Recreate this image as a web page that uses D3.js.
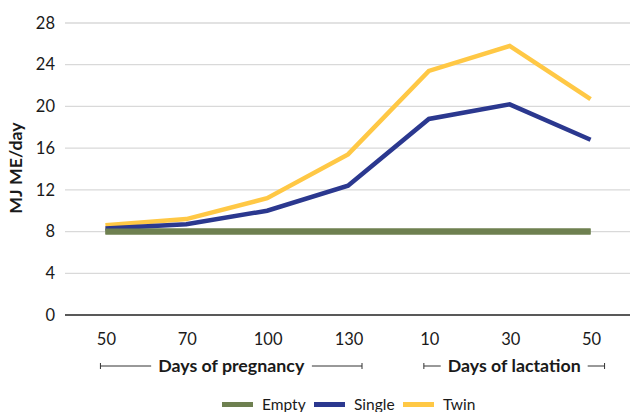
<!DOCTYPE html>
<html><head><meta charset="utf-8">
<script src="https://cdn.jsdelivr.net/npm/d3@7"></script>
<style>body{margin:0;background:#fff}svg{display:block}text{font-family:Lato,"Noto Sans",sans-serif;fill:#1a1a1a}</style>
</head><body><svg id="c" width="630" height="412"></svg>
<script>
const categories = ["p50","p70","p100","p130","l10","l30","l50"];
const tickLabels = ["50","70","100","130","10","30","50"];
const empty  = [8, 8, 8, 8, 8, 8, 8];
const single = [8.3, 8.7, 10.0, 12.4, 18.8, 20.2, 16.8];
const twin   = [8.6, 9.2, 11.2, 15.4, 23.4, 25.8, 20.7];
const yTicks = [0,4,8,12,16,20,24,28];
const seriesNames = ["Empty","Single","Twin"];
const colors = ["#6E8050","#2B388F","#FFC845"];
const groups = [{label:"Days of pregnancy", from:0, to:3},{label:"Days of lactation", from:4, to:6}];

const svg = d3.select("#c");
const L=65, R=631, T=23, B=315;
const x = d3.scaleBand().domain(categories).range([L,R]);
const y = d3.scaleLinear().domain([0,28]).range([B,T]);

// gridlines
svg.append("g").selectAll("line").data(yTicks.filter(d=>d>0)).join("line")
  .attr("x1",L).attr("x2",R).attr("y1",d=>y(d)).attr("y2",d=>y(d))
  .attr("stroke","#d9d9d9").attr("stroke-width",1.3);
// y tick labels
svg.append("g").selectAll("text").data(yTicks).join("text")
  .attr("x",55).attr("y",d=>y(d)).attr("dy","0.35em").attr("text-anchor","end")
  .attr("font-size",16.5).text(d=>d);
// x axis line
svg.append("line").attr("x1",L).attr("x2",R).attr("y1",B).attr("y2",B).attr("stroke","#222").attr("stroke-width",1.3);
// x tick labels
svg.append("g").selectAll("text").data(categories).join("text")
  .attr("x",d=>x(d)+x.bandwidth()/2+1).attr("y",339).attr("dy","0.35em").attr("text-anchor","middle")
  .attr("font-size",16.5).text((d,i)=>tickLabels[i]);

// y label
svg.append("text").attr("transform","translate(22,168) rotate(-90)").attr("text-anchor","middle")
  .attr("font-size",17.8).attr("font-weight","bold").text("MJ ME/day");

// lines
const cx = d=>x(d)+x.bandwidth()/2;
const line = d3.line().x((d,i)=>cx(categories[i])).y(d=>y(d));
const data = [empty, single, twin];
const widths = [6,4.5,4.5];
[0,2,1].forEach(k=>{
  svg.append("path").datum(data[k]).attr("d",line).attr("fill","none")
    .attr("stroke",colors[k]).attr("stroke-width",widths[k]).attr("stroke-linejoin","miter");
});
svg.append("path").datum(empty).attr("d",line).attr("fill","none").attr("stroke",colors[0]).attr("stroke-width",6);

// group brackets
const gy = 366;
groups.forEach(g=>{
  const x1 = cx(categories[g.from]) - 5, x2 = cx(categories[g.to]) + 14;
  const t = svg.append("text").attr("x",(x1+x2)/2).attr("y",gy).attr("dy","0.35em").attr("text-anchor","middle")
    .attr("font-size",17.8).attr("font-weight","bold").text(g.label);
  const bb = t.node().getBBox();
  const gb = svg.append("g").attr("stroke","#333").attr("stroke-width",1);
  gb.append("line").attr("x1",x1).attr("x2",bb.x-7).attr("y1",gy).attr("y2",gy);
  gb.append("line").attr("x1",bb.x+bb.width+7).attr("x2",x2).attr("y1",gy).attr("y2",gy);
  gb.append("line").attr("x1",x1).attr("x2",x1).attr("y1",gy-3).attr("y2",gy+3);
  gb.append("line").attr("x1",x2).attr("x2",x2).attr("y1",gy-3).attr("y2",gy+3);
});

// legend
const lg = svg.append("g");
const lx = [222, 314, 403];
seriesNames.forEach((n,i)=>{
  lg.append("rect").attr("x",lx[i]).attr("y",402).attr("width",31).attr("height",5).attr("fill",colors[i]);
  lg.append("text").attr("x",lx[i]+40).attr("y",405).attr("dy","0.35em").attr("font-size",15.5).text(n);
});
</script></body></html>
